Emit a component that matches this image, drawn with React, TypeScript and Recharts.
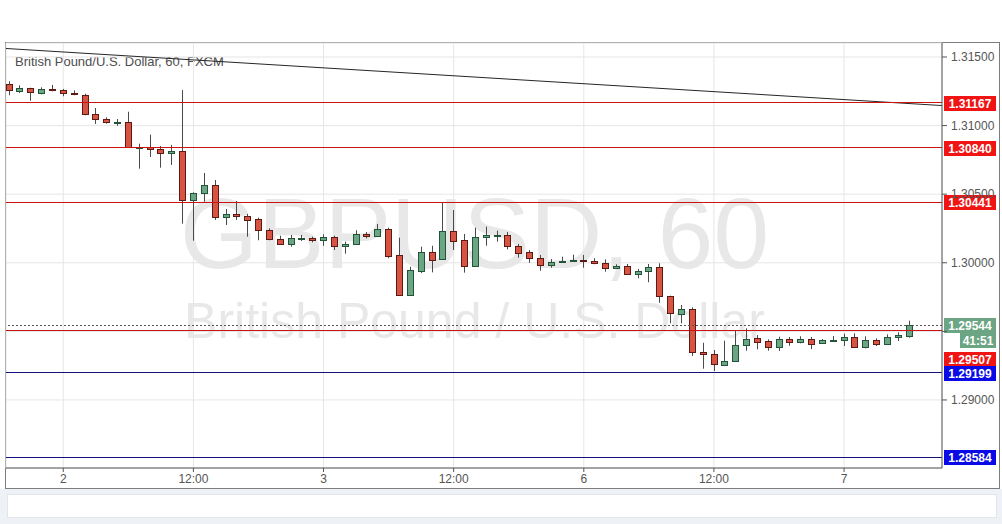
import React from 'react';
import { ComposedChart, Bar, XAxis, YAxis, CartesianGrid, ReferenceLine } from 'recharts';

// hourly candles (index 0 = day 1, 19:00)
const opens = [
  1.31305, 1.31252, 1.31272, 1.3124, 1.31265, 1.31257, 1.31238, 1.31225, 1.31082, 1.31048,
  1.31024, 1.31024, 1.30842, 1.30842, 1.30827, 1.30802, 1.30815, 1.3046, 1.30506, 1.30567,
  1.30332, 1.30356, 1.30341, 1.30317, 1.30239, 1.30173, 1.30135, 1.30173, 1.30181, 1.30166,
  1.30186, 1.30122, 1.30135, 1.3021, 1.30197, 1.30246, 1.30057, 1.29767, 1.29942, 1.30076,
  1.30025, 1.30232, 1.30166, 1.29976, 1.30186, 1.30195, 1.302, 1.3012, 1.30076, 1.30033,
  1.29982, 1.30003, 1.30011, 1.30022, 1.30013, 1.29996, 1.2996, 1.29976, 1.2992, 1.29938,
  1.29967, 1.29756, 1.29629, 1.29661, 1.29347, 1.29337, 1.29257, 1.29282, 1.29398, 1.29449,
  1.29427, 1.29388, 1.29442, 1.2942, 1.29444, 1.29415, 1.29435, 1.29435, 1.29457, 1.29388,
  1.29437, 1.29406, 1.29457, 1.29468,
];
const highs = [
  1.31323, 1.31294, 1.31276, 1.31279, 1.31296, 1.31267, 1.31257, 1.31232, 1.31128, 1.3106,
  1.31048, 1.31101, 1.30868, 1.30934, 1.30851, 1.30859, 1.31259, 1.30514, 1.30654, 1.30603,
  1.30392, 1.3045, 1.30356, 1.30329, 1.30251, 1.30197, 1.30203, 1.30203, 1.3019, 1.30207,
  1.30197, 1.30154, 1.30237, 1.30224, 1.30283, 1.30256, 1.30183, 1.29971, 1.30117, 1.30124,
  1.30441, 1.30385, 1.3021, 1.30256, 1.30263, 1.30234, 1.30224, 1.30137, 1.30093, 1.30057,
  1.30027, 1.30044, 1.30059, 1.30057, 1.30033, 1.30025, 1.29989, 1.29991, 1.29955, 1.29991,
  1.29996, 1.2976, 1.29692, 1.29675, 1.29417, 1.29364, 1.29432, 1.29505, 1.29522, 1.29473,
  1.29442, 1.29461, 1.29459, 1.29464, 1.29459, 1.29444, 1.29466, 1.29483, 1.29486, 1.29464,
  1.29449, 1.29478, 1.29493, 1.29578,
];
const lows = [
  1.31221, 1.31238, 1.31181, 1.31228, 1.3125, 1.31214, 1.31221, 1.31075, 1.31012, 1.31014,
  1.30999, 1.30842, 1.30686, 1.30771, 1.30693, 1.30713, 1.30285, 1.30161, 1.30445, 1.30312,
  1.30275, 1.30312, 1.3019, 1.30164, 1.30164, 1.3013, 1.30117, 1.30159, 1.30149, 1.30124,
  1.30093, 1.30066, 1.3013, 1.30178, 1.30193, 1.30033, 1.29767, 1.29767, 1.29925, 1.2993,
  1.30025, 1.30093, 1.29928, 1.29974, 1.30124, 1.30154, 1.30098, 1.30037, 1.3, 1.29942,
  1.29964, 1.30003, 1.30008, 1.29964, 1.29989, 1.29935, 1.29955, 1.29911, 1.29887, 1.29858,
  1.29709, 1.29559, 1.29559, 1.2932, 1.29228, 1.29211, 1.29257, 1.29282, 1.29359, 1.29369,
  1.29359, 1.29357, 1.29395, 1.29413, 1.29371, 1.2941, 1.29435, 1.29393, 1.29381, 1.29376,
  1.29393, 1.294, 1.2943, 1.29454,
];
const closes = [
  1.31257, 1.31272, 1.31243, 1.31265, 1.31257, 1.31235, 1.31228, 1.31082, 1.31046, 1.31024,
  1.31028, 1.30842, 1.30844, 1.30827, 1.30802, 1.30815, 1.3046, 1.30509, 1.30567, 1.30332,
  1.30356, 1.30339, 1.30314, 1.30237, 1.30171, 1.30135, 1.30178, 1.30181, 1.30164, 1.3019,
  1.3012, 1.30137, 1.3021, 1.30197, 1.30246, 1.30049, 1.29767, 1.29945, 1.30076, 1.30022,
  1.30232, 1.30161, 1.29976, 1.30186, 1.302, 1.302, 1.30122, 1.30073, 1.30033, 1.29982,
  1.30006, 1.30015, 1.3002, 1.30011, 1.29996, 1.2996, 1.29976, 1.2992, 1.29938, 1.29967,
  1.29756, 1.29632, 1.29661, 1.29347, 1.29337, 1.2926, 1.29282, 1.29398, 1.29446, 1.29425,
  1.29388, 1.29442, 1.29422, 1.29444, 1.2941, 1.29437, 1.29439, 1.29457, 1.29388, 1.29435,
  1.29406, 1.29457, 1.29473, 1.29544,
];

const xTicks = [5, 17, 29, 41, 53, 65, 77];
const xTickLabels = ['2', '12:00', '3', '12:00', '6', '12:00', '7'];
const yTicks = [1.29, 1.295, 1.3, 1.305, 1.31, 1.315];
// tick whose label is hidden behind the last price tag
const hiddenTick = 1.295;

const redLevels = [1.31167, 1.3084, 1.30441, 1.29507];
const blueLevels = [1.29199, 1.28584];
const lastPrice = 1.29544;
const countdown = '41:51';
// trend line end points [bar index, price]
const trendLine = [
  [-0.28, 1.31562],
  [86.03, 1.31146],
];

const data = opens.map((o, i) => ({
  t: i,
  open: o,
  high: highs[i],
  low: lows[i],
  close: closes[i],
}));

const levels = [
  ...redLevels.map((v) => ({ v, line: '#cc1111', tag: '#f01414' })),
  ...blueLevels.map((v) => ({ v, line: '#11117a', tag: '#0a0ae6' })),
];

const FONT = '"Liberation Sans", Arial, sans-serif';
const UP = '#6ba583';
const DOWN = '#d75442';

const Candle = (props: any) => {
  const { x, y, width, height, payload } = props;
  if (payload == null || height == null) return null;
  const { open, close, high, low } = payload;
  const up = close >= open;
  const k = height / (high - low || 1);
  const yOf = (v: number) => y + (high - v) * k;
  const cx = Math.floor(x + width / 2) + 0.5;
  const top = Math.round(yOf(Math.max(open, close))) + 0.5;
  const bot = Math.round(yOf(Math.min(open, close))) + 0.5;
  return (
    <g>
      <line x1={cx} x2={cx} y1={y} y2={y + height} stroke="#4a4a4a" strokeWidth={1} />
      <rect
        x={cx - 3}
        y={top}
        width={6}
        height={Math.max(bot - top, 1)}
        fill={up ? UP : DOWN}
        stroke={up ? '#225437' : '#5b1a13'}
        strokeWidth={1}
      />
    </g>
  );
};

const PriceTag = ({ viewBox, text, bg, dy = 0, extra }: any) => {
  if (!viewBox) return null;
  const x = viewBox.x + viewBox.width + 2;
  const y = Math.round(viewBox.y + dy);
  return (
    <g>
      <rect x={x} y={y - 7} width={52} height={15} fill={bg} />
      <text x={x + 26} y={y + 4.5} textAnchor="middle" fill="#fff" fontSize={12} fontWeight="bold" fontFamily={FONT}>
        {text}
      </text>
      {extra && (
        <g>
          <rect x={x + 16} y={y + 8} width={36} height={15} fill={bg} />
          <text x={x + 34} y={y + 19.5} textAnchor="middle" fill="#fff" fontSize={12} fontWeight="bold" fontFamily={FONT}>
            {extra}
          </text>
        </g>
      )}
    </g>
  );
};

// label of 1.29507 is pushed down below the last price tag
const tagShift: Record<string, number> = { '1.29507': 29 };

const PriceTick = (props: any) => {
  const { x, y, payload } = props;
  if (Math.abs(payload.value - hiddenTick) < 1e-7) return null;
  return (
    <text x={x} y={y} dy={4} fill="#555" fontSize={12} textAnchor="start" fontFamily={FONT}>
      {payload.value.toFixed(5)}
    </text>
  );
};

export default function App() {
  return (
    <div style={{ position: 'absolute', left: 0, top: 0, width: 1002, height: 524, background: '#fff', fontFamily: FONT, overflow: 'hidden' }}>
      {/* footer strip */}
      <div style={{ position: 'absolute', left: 0, top: 489, width: 1002, height: 35, background: '#eef1f5' }} />
      <div style={{ position: 'absolute', left: 7, top: 494, width: 990, height: 24, background: '#fff', boxSizing: 'border-box', border: '1px solid #e2e5ea' }} />
      {/* outer frame */}
      <div style={{ position: 'absolute', left: 5, top: 42, width: 995, height: 447, boxSizing: 'border-box', border: '1px solid #7d7d7d' }} />

      {/* watermark */}
      <div style={{ position: 'absolute', left: 7, top: 183, width: 935, textAlign: 'center', fontSize: 100, lineHeight: '100px', color: '#e8e8e8', whiteSpace: 'nowrap' }}>
        GBPUSD, 60
      </div>
      <div style={{ position: 'absolute', left: 7, top: 296, width: 935, textAlign: 'center', fontSize: 50, lineHeight: '50px', color: '#e8e8e8', whiteSpace: 'nowrap' }}>
        British Pound / U.S. Dollar
      </div>
      <div style={{ position: 'absolute', left: 15, top: 55, fontSize: 13, lineHeight: '13px', color: '#4d4d4d', whiteSpace: 'nowrap' }}>
        British Pound/U.S. Dollar, 60, FXCM
      </div>

      <div style={{ position: 'absolute', left: 0, top: 0 }}>
        <ComposedChart width={1002} height={524} data={data} margin={{ top: 43, right: 0, bottom: 36, left: 6 }}>
          <CartesianGrid stroke="#e6e6e6" />
          <XAxis
            dataKey="t"
            type="number"
            domain={[-0.28, 86.03]}
            allowDataOverflow
            ticks={xTicks}
            tickFormatter={(v: number) => xTickLabels[xTicks.indexOf(v)] ?? ''}
            height={20}
            tickSize={4}
            tickMargin={2}
            stroke="#555"
            tick={{ fill: '#555', fontSize: 12 }}
          />
          <YAxis
            orientation="right"
            width={60}
            domain={[1.28504, 1.31602]}
            allowDataOverflow
            ticks={yTicks}
            tickSize={5}
            tickMargin={4}
            stroke="#555"
            tick={PriceTick}
          />
          <ReferenceLine
            segment={[
              { x: trendLine[0][0], y: trendLine[0][1] },
              { x: trendLine[1][0], y: trendLine[1][1] },
            ]}
            stroke="#262626"
            strokeWidth={1}
            ifOverflow="visible"
          />
          {levels.map((lv) => (
            <ReferenceLine
              key={'lv' + lv.v}
              y={lv.v}
              stroke={lv.line}
              strokeWidth={1}
              shapeRendering="crispEdges"
              label={(p: any) => (
                <PriceTag viewBox={p.viewBox} text={lv.v.toFixed(5)} bg={lv.tag} dy={tagShift[lv.v.toFixed(5)] || 0} />
              )}
            />
          ))}
          <ReferenceLine
            y={lastPrice}
            stroke="#555"
            strokeDasharray="2 2"
            shapeRendering="crispEdges"
            label={(p: any) => <PriceTag viewBox={p.viewBox} text={lastPrice.toFixed(5)} bg={UP} extra={countdown} />}
          />
          <Bar dataKey={(d: any) => [d.low, d.high]} barSize={7} shape={Candle} isAnimationActive={false} />
        </ComposedChart>
      </div>
    </div>
  );
}
